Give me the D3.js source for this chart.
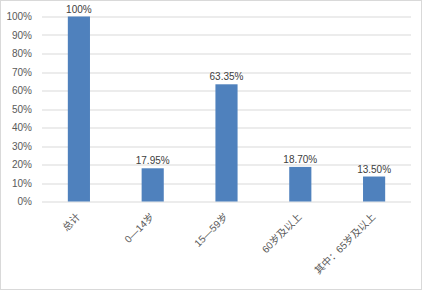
<!DOCTYPE html>
<html>
<head>
<meta charset="utf-8">
<script src="https://cdn.jsdelivr.net/npm/d3@7/dist/d3.min.js"></script>
<style>
  body { margin: 0; background: #fff; }
  svg text { font-family: "Liberation Sans", "Noto Sans CJK SC", sans-serif; }
</style>
</head>
<body>
<div id="chart"></div>
<script>
// categories and values
var categories = ["总计", "0—14岁", "15—59岁", "60岁及以上", "其中：65岁及以上"];
var values = [100, 17.95, 63.35, 18.70, 13.50];
var valueLabels = ["100%", "17.95%", "63.35%", "18.70%", "13.50%"];
var yTicks = [0, 10, 20, 30, 40, 50, 60, 70, 80, 90, 100];

var W = 423, H = 291;
var margin = {left: 42, right: 12, top: 16.5, bottom: 89.5};
var width = W - margin.left - margin.right,
    height = H - margin.top - margin.bottom;

var svg = d3.select("#chart").append("svg")
    .attr("width", W).attr("height", H);

svg.append("rect")
    .attr("x", 0.5).attr("y", 0.5)
    .attr("width", W - 2).attr("height", H - 2)
    .attr("fill", "#fff").attr("stroke", "#d9d9d9");

var g = svg.append("g")
    .attr("transform", "translate(" + margin.left + "," + margin.top + ")");

var xScale = d3.scaleBand().domain(categories).range([0, width]).paddingInner(0.7).paddingOuter(0.35);
var yScale = d3.scaleLinear().domain([0, 100]).range([height, 0]);

// gridlines
g.append("g").selectAll("line")
    .data(yTicks).enter().append("line")
    .attr("x1", 0).attr("x2", width)
    .attr("y1", function(d) { return Math.round(yScale(d)) + 0.5; })
    .attr("y2", function(d) { return Math.round(yScale(d)) + 0.5; })
    .attr("stroke", "#d9d9d9");

// y axis
var yAxis = g.append("g")
    .call(d3.axisLeft(yScale).tickValues(yTicks).tickSize(0).tickPadding(10)
        .tickFormat(function(d) { return d + "%"; }));
yAxis.select(".domain").remove();
yAxis.selectAll("text").attr("fill", "#595959").style("font-size", "10px");

// bars
g.selectAll(".bar")
    .data(values).enter().append("rect")
    .attr("class", "bar")
    .attr("x", function(d, i) { return xScale(categories[i]); })
    .attr("y", function(d) { return yScale(d); })
    .attr("width", xScale.bandwidth())
    .attr("height", function(d) { return height - yScale(d); })
    .attr("fill", "#4f81bd");

// value labels
g.selectAll(".val")
    .data(values).enter().append("text")
    .attr("class", "val")
    .attr("x", function(d, i) { return xScale(categories[i]) + xScale.bandwidth() / 2; })
    .attr("y", function(d) { return yScale(d) - 4; })
    .attr("text-anchor", "middle")
    .attr("fill", "#404040")
    .style("font-size", "10px")
    .text(function(d, i) { return valueLabels[i]; });

// x axis
var xAxis = g.append("g")
    .attr("transform", "translate(0," + height + ")")
    .call(d3.axisBottom(xScale).tickSize(0).tickPadding(0));
xAxis.select(".domain").remove();
xAxis.selectAll("text")
    .attr("fill", "#595959")
    .style("font-size", "10px")
    .attr("text-anchor", "end")
    .attr("dy", "0")
    .attr("transform", "translate(2,16) rotate(-45)");
</script>
</body>
</html>
